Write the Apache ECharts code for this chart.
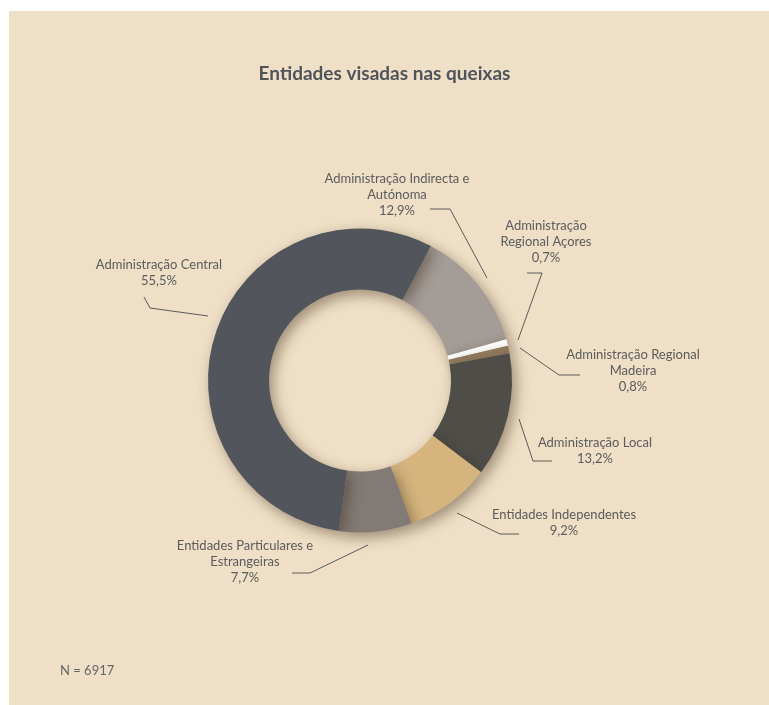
<!DOCTYPE html>
<html>
<head>
<meta charset="utf-8">
<script src="https://cdn.jsdelivr.net/npm/echarts@6/dist/echarts.min.js"></script>
<style>
  html, body { margin: 0; padding: 0; background: #ffffff; }
  #panel { position: absolute; left: 9px; top: 11px; width: 760px; height: 694px; background: #eedfc6; }
  #chart { position: absolute; left: 0; top: 0; width: 769px; height: 705px; }
</style>
</head>
<body>
<div id="panel"></div>
<div id="chart"></div>
<script>
// Complaint shares by targeted entity (clockwise from the top-right)
const categories = [
  'Administração Indirecta e\nAutónoma',
  'Administração\nRegional Açores',
  'Administração Regional\nMadeira',
  'Administração Local',
  'Entidades Independentes',
  'Entidades Particulares e\nEstrangeiras',
  'Administração Central'
];
const shares = [12.9, 0.7, 0.8, 13.2, 9.2, 7.7, 55.5];
const sliceColors = ['#a39c97', '#ffffff', '#8f7a5e', '#4e4d48', '#d5b47e', '#827b75', '#52555b'];
const titleText = 'Entidades visadas nas queixas';
const footnote = 'N = 6917';

// Hand-placed callout positions: label centre and leader polyline
const callouts = [
  { x: 397, y: 195, line: [[487, 278], [450, 209], [430, 209]] },
  { x: 546, y: 242, line: [[518, 340], [542, 273], [527, 273]] },
  { x: 633, y: 371, line: [[520, 348], [559, 375], [580, 375]] },
  { x: 595, y: 451, line: [[519, 419], [533, 461], [552, 461]] },
  { x: 564, y: 523, line: [[457, 513], [500, 534], [519, 534]] },
  { x: 245, y: 562, line: [[368, 545], [310, 573], [292, 573]] },
  { x: 159, y: 273, line: [[208, 316], [150, 308], [144, 297]] }
];

const fmt = v => v.toFixed(1).replace('.', ',') + '%';

const chart = echarts.init(document.getElementById('chart'), null, { renderer: 'canvas' });
chart.setOption({
  backgroundColor: 'transparent',
  textStyle: { fontFamily: 'Lato' },
  title: {
    text: titleText,
    left: 'center',
    top: 59,
    textStyle: { fontFamily: 'Lato', fontWeight: 'bold', fontSize: 19, color: '#50545a' }
  },
  graphic: [{
    type: 'text',
    left: 60,
    top: 664,
    style: { text: footnote, fontFamily: 'Lato', fontSize: 13, fill: '#666666' }
  }],
  series: [{
    type: 'pie',
    center: [360, 380.5],
    radius: [91, 152],
    startAngle: 62.2,
    clockwise: true,
    avoidLabelOverlap: false,
    animation: false,
    data: categories.map((name, i) => ({
      name: name,
      value: shares[i],
      itemStyle: { color: sliceColors[i] }
    })),
    itemStyle: {
      shadowBlur: 14,
      shadowColor: 'rgba(60,40,20,0.45)',
      shadowOffsetX: 4,
      shadowOffsetY: 5
    },
    emphasis: { disabled: true },
    label: {
      show: true,
      position: 'outside',
      formatter: p => p.name + '\n' + fmt(p.value),
      fontFamily: 'Lato',
      fontSize: 13,
      lineHeight: 16,
      color: '#5c5c5c',
      align: 'center'
    },
    labelLine: {
      show: true,
      lineStyle: { color: '#5a5a5a', width: 1 }
    },
    labelLayout: params => {
      const c = callouts[params.dataIndex];
      return {
        x: c.x,
        y: c.y,
        align: 'center',
        verticalAlign: 'middle',
        labelLinePoints: c.line
      };
    }
  }]
});
</script>
</body>
</html>
